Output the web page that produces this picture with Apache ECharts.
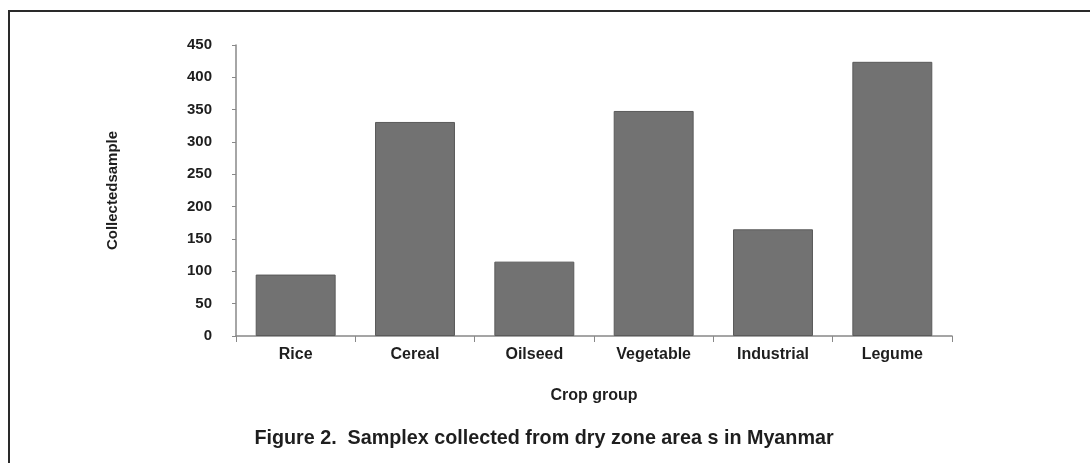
<!DOCTYPE html>
<html>
<head>
<meta charset="utf-8">
<script src="https://cdn.jsdelivr.net/npm/echarts@6/dist/echarts.min.js"></script>
<style>
  html, body { margin: 0; padding: 0; background: #fff; }
  #chart { width: 1090px; height: 463px; }
</style>
</head>
<body>
<div id="chart"></div>
<script>
// Crop groups and number of samples collected in each
const categories = ['Rice', 'Cereal', 'Oilseed', 'Vegetable', 'Industrial', 'Legume'];
const samples = [95, 331, 115, 348, 165, 424];
const yTicks = { min: 0, max: 450, interval: 50 };

const chart = echarts.init(document.getElementById('chart'), null, { renderer: 'canvas' });
const font = 'Liberation Sans, Arial, Helvetica, sans-serif';
const ink = '#1e1e1e';

chart.setOption({
  backgroundColor: '#ffffff',
  animation: false,
  graphic: [
    {
      // frame around the figure
      type: 'rect',
      shape: { x: 9, y: 11, width: 1200, height: 600 },
      style: { fill: 'none', stroke: '#2a2a2a', lineWidth: 2 },
      silent: true
    },
    {
      // figure caption
      type: 'text',
      x: 544,
      y: 438,
      scaleX: 0.94,
      style: {
        text: 'Figure 2.  Samplex collected from dry zone area s in Myanmar',
        font: 'bold 21px ' + font,
        fill: ink,
        align: 'center',
        verticalAlign: 'middle'
      },
      silent: true
    }
  ],
  grid: { left: 236, right: 138, top: 45, bottom: 127 },
  xAxis: {
    type: 'category',
    data: categories,
    name: 'Crop group',
    nameLocation: 'middle',
    nameGap: 52,
    nameTextStyle: { fontFamily: font, fontSize: 16, fontWeight: 'bold', color: ink },
    axisLine: { lineStyle: { color: '#888', width: 1.5 } },
    axisTick: { show: true, length: 6, lineStyle: { color: '#888' } },
    axisLabel: { fontFamily: font, fontSize: 16, fontWeight: 'bold', color: ink, margin: 11 }
  },
  yAxis: {
    type: 'value',
    min: yTicks.min,
    max: yTicks.max,
    interval: yTicks.interval,
    name: 'Collectedsample',
    nameLocation: 'middle',
    nameGap: 116,
    nameTextStyle: { fontFamily: font, fontSize: 15, fontWeight: 'bold', color: ink },
    axisLine: { show: true, lineStyle: { color: '#888', width: 1.5 } },
    axisTick: { show: true, length: 4, lineStyle: { color: '#888' } },
    axisLabel: { fontFamily: font, fontSize: 15, fontWeight: 'bold', color: ink, margin: 24 },
    splitLine: { show: false }
  },
  series: [{
    type: 'bar',
    data: samples,
    barWidth: '67%',
    itemStyle: { color: '#727272', borderColor: '#5a5a5a', borderWidth: 1 }
  }]
});
</script>
</body>
</html>
